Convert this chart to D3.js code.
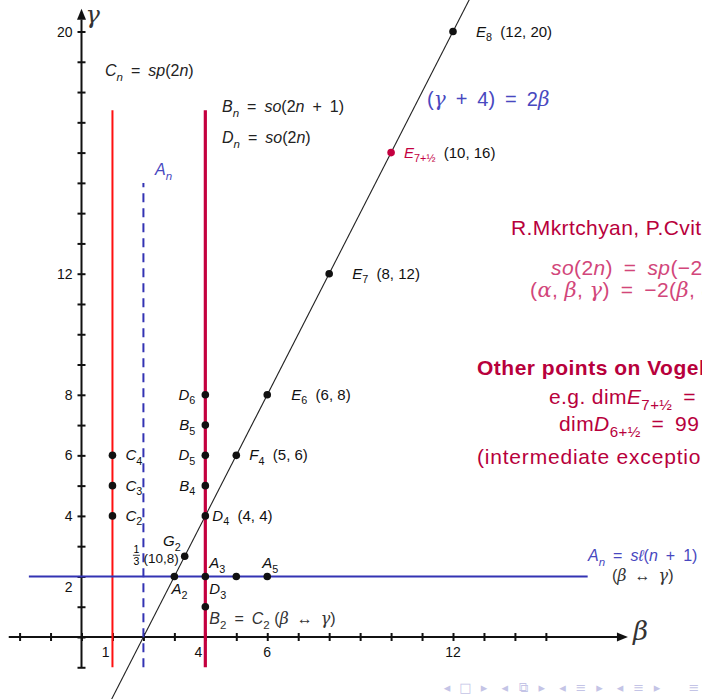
<!DOCTYPE html>
<html>
<head>
<meta charset="utf-8">
<script src="https://cdn.jsdelivr.net/npm/d3@7"></script>
<style>
body{margin:0;background:#fff}
svg{display:block;font-family:"Liberation Sans",sans-serif}
text{white-space:pre}
</style>
</head>
<body>
<script>
// ---- data ----
var betaTicks = d3.range(-2, 16)
var gammaTicks = d3.range(-1, 21)
var betaLabels = [1, 4, 6, 12]
var gammaLabels = [2, 4, 6, 8, 12, 20]

// lines, as [beta, gamma] end points
var cLine = [[1, -1], [1, 17.4]]
var bdLine = [[4, -1], [4, 17.4]]
var aLine = [[2, -1], [2, 15]]
var aRow = [[-1.7, 2], [16.35, 2]]
var vogelLine = [[0.95, -2.1], [12.55, 21.1]]

// points on the vogel line
var lineNames = ['*E*_{8}', '*E*_{7+½}', '*E*_{7}', '*E*_{6}', '*F*_{4}', '*D*_{4}']
var lineBeta = [12, 10, 8, 6, 5, 4]
var lineGamma = [20, 16, 12, 8, 6, 4]
var lineCoords = ['(12, 20)', '(10, 16)', '(8, 12)', '(6, 8)', '(5, 6)', '(4, 4)']
var intermediate = ['*E*_{7+½}']

// points on the B/D line (beta = 4)
var bdNames = ['*D*_{6}', '*B*_{5}', '*D*_{5}', '*B*_{4}']
var bdGamma = [8, 7, 6, 5]

// points on the C line (beta = 1)
var cNames = ['*C*_{4}', '*C*_{3}', '*C*_{2}']
var cGamma = [6, 5, 4]

// points on the A row (gamma = 2)
var aNames = ['*A*_{2}', '*A*_{3}', '', '*A*_{5}']
var aBeta = [3, 4, 5, 6]

var g2 = {name: '*G*_{2}', beta: 10 / 3, gamma: 8 / 3, coords: '(10,8)', num: '1', den: '3'}
var b2 = {name: '*B*_{2} = *C*_{2} (~β~ ↔ ~γ~)', beta: 4, gamma: 1}
var d3Label = {name: '*D*_{3}', beta: 4, gamma: 2}

var navGlyphs = ['◂', '□', '▸', '◂', '⧉', '▸', '◂', '≡', '▸', '◂', '≡', '▸', '≡']

// ---- drawing ----
var W = 702, H = 699
var ink = '#111', red = '#ff1010', crimson = '#c4003f', blue = '#3333b3', lblue = '#4848c0'

var x = d3.scaleLinear().domain([0, 12]).range([81.5, 453])
var y = d3.scaleLinear().domain([0, 20]).range([637, 31.5])

var svg = d3.select('body').append('svg').attr('width', W).attr('height', H)

// writes a tiny tex-like string: *italic*, ~greek~, _{sub}
function tex(sel, str, size) {
  var toks = str.match(/\*[^*]+\*|~[^~]+~|_\{[^}]+\}|[^*~_]+/g) || []
  var shift = 0
  toks.forEach(function (t) {
    var ts = sel.append('tspan'), dy = 0
    if (t[0] == '_') {
      var inner = t.slice(2, -1)
      ts.text(inner).attr('font-size', size * 0.72)
      if (/^[a-z]+$/.test(inner)) ts.attr('font-style', 'italic')
      dy = size * 0.3
    } else if (t[0] == '*') {
      ts.text(t.slice(1, -1)).attr('font-style', 'italic')
    } else if (t[0] == '~') {
      ts.text(t.slice(1, -1)).attr('font-style', 'italic').attr('font-family', 'DejaVu Serif')
    } else ts.text(t.replace(/ ([=+↔]) /g, '\u2002$1\u2002'))
    if (dy - shift) ts.attr('dy', dy - shift)
    shift = dy
  })
  return sel
}

function label(str, bx, gy, dx, dy, opts) {
  opts = opts || {}
  var size = opts.size || 15
  var t = svg.append('text')
    .attr('x', x(bx) + dx).attr('y', y(gy) + dy)
    .attr('font-size', size)
    .attr('fill', opts.color || ink)
    .attr('text-anchor', opts.anchor || 'start')
  return tex(t, str, size)
}

var line = d3.line().x(function (d) { return x(d[0]) }).y(function (d) { return y(d[1]) })

// axes
var xAxis = d3.axisBottom(x).tickValues(betaTicks).tickSize(8).tickSizeOuter(0).tickFormat('')
var gx = svg.append('g').attr('transform', 'translate(0,' + y(0) + ')').call(xAxis)
gx.select('.domain').remove()
gx.selectAll('.tick line').attr('y1', -4).attr('y2', 4).attr('stroke', ink).attr('stroke-width', 2)

var yAxis = d3.axisLeft(y).tickValues(gammaTicks).tickSize(8).tickSizeOuter(0).tickFormat('')
var gy = svg.append('g').attr('transform', 'translate(' + x(0) + ',0)').call(yAxis)
gy.select('.domain').remove()
gy.selectAll('.tick line').attr('x1', 4).attr('x2', -4).attr('stroke', ink).attr('stroke-width', 2)

svg.append('path').attr('d', line([[-2.35, 0], [17.4, 0]])).attr('stroke', ink).attr('stroke-width', 2)
svg.append('path').attr('d', line([[0, -1], [0, 20.4]])).attr('stroke', ink).attr('stroke-width', 2)
// arrow heads
var xt = x(17.65), yt = y(0)
svg.append('path').attr('d', 'M' + xt + ',' + yt + 'l-11,-4.5l0,9z').attr('fill', ink)
var gxp = x(0), gyp = y(20.75)
svg.append('path').attr('d', 'M' + gxp + ',' + gyp + 'l-4.5,11l9,0z').attr('fill', ink)

svg.append('text').attr('x', xt + 5).attr('y', yt + 3).attr('font-size', 26)
  .attr('font-family', 'DejaVu Serif').attr('font-style', 'italic').attr('fill', '#333').text('β')
svg.append('text').attr('x', gxp + 4).attr('y', gyp + 14).attr('font-size', 24)
  .attr('font-family', 'DejaVu Serif').attr('font-style', 'italic').attr('fill', '#333').text('γ')

// tick labels
svg.selectAll('.bl').data(betaLabels).enter().append('text')
  .attr('x', function (d) { return (d == 1 || d == 4) ? x(d) - 3 : x(d) })
  .attr('y', y(0) + 20)
  .attr('text-anchor', function (d) { return (d == 1 || d == 4) ? 'end' : 'middle' })
  .attr('font-size', 14).attr('fill', ink)
  .text(function (d) { return d })
svg.selectAll('.gl').data(gammaLabels).enter().append('text')
  .attr('x', x(0) - 9)
  .attr('y', function (d) { return y(d) + (d == aRow[0][1] ? 16 : 5) })
  .attr('text-anchor', 'end').attr('font-size', 14).attr('fill', ink)
  .text(function (d) { return d })

// family lines
svg.append('path').attr('d', line(vogelLine)).attr('stroke', '#222').attr('stroke-width', 1.1).attr('fill', 'none')
svg.append('path').attr('d', line(cLine)).attr('stroke', red).attr('stroke-width', 2)
svg.append('path').attr('d', line(bdLine)).attr('stroke', crimson).attr('stroke-width', 3.2)
svg.append('path').attr('d', line(aLine)).attr('stroke', blue).attr('stroke-width', 2).attr('stroke-dasharray', '9,6')
svg.append('path').attr('d', line(aRow)).attr('stroke', blue).attr('stroke-width', 2)

// points
function dot(b, g, c) {
  svg.append('circle').attr('cx', x(b)).attr('cy', y(g)).attr('r', 3.8).attr('fill', c || ink)
}

var lineDx = [23, 13, 23, 24, 13, 7]
lineNames.forEach(function (n, i) {
  var c = intermediate.indexOf(n) >= 0 ? crimson : ink
  dot(lineBeta[i], lineGamma[i], c)
  var t = label(n, lineBeta[i], lineGamma[i], lineDx[i], 5, {color: c})
  t.append('tspan').attr('fill', ink).attr('dy', -4.5).text('  ' + lineCoords[i])
})
bdNames.forEach(function (n, i) {
  dot(4, bdGamma[i])
  label(n, 4, bdGamma[i], -10, 5, {anchor: 'end'})
})
cNames.forEach(function (n, i) {
  dot(1, cGamma[i])
  label(n, 1, cGamma[i], 13, 5)
})
var aPlace = [[-3, 18], [4, -8], [0, 0], [-5, -8]]
aNames.forEach(function (n, i) {
  dot(aBeta[i], 2)
  if (n) label(n, aBeta[i], 2, aPlace[i][0], aPlace[i][1])
})
label(d3Label.name, d3Label.beta, d3Label.gamma, 4, 18)
dot(b2.beta, b2.gamma)
label(b2.name, b2.beta, b2.gamma, 4, 17, {size: 16, color: '#333'})

dot(g2.beta, g2.gamma)
label(g2.name, g2.beta, g2.gamma, -4, -10, {anchor: 'end'})
var gc = svg.append('text').attr('x', x(g2.beta) - 6).attr('y', y(g2.gamma) + 7)
  .attr('text-anchor', 'end').attr('font-size', 13.5).attr('fill', ink).text(g2.coords)
var fx = x(g2.beta) - 6 - gc.node().getComputedTextLength() - 7
var fy = y(g2.gamma) - 1
svg.append('text').attr('x', fx).attr('y', fy - 2.5).attr('text-anchor', 'middle').attr('font-size', 10.5).text(g2.num)
svg.append('line').attr('x1', fx - 3.5).attr('x2', fx + 3.5).attr('y1', fy).attr('y2', fy).attr('stroke', ink).attr('stroke-width', 0.8)
svg.append('text').attr('x', fx).attr('y', fy + 9.5).attr('text-anchor', 'middle').attr('font-size', 10.5).text(g2.den)

// family names
function note(str, px, py, opts) {
  opts = opts || {}
  var size = opts.size || 16
  var t = svg.append('text').attr('x', px).attr('y', py).attr('font-size', size)
    .attr('fill', opts.color || '#222').attr('font-weight', opts.bold ? 'bold' : null)
    .attr('letter-spacing', opts.spacing || null)
  return tex(t, str, size)
}
note('*C*_{n} = *sp*(2*n*)', 105, 76)
note('*B*_{n} = *so*(2*n* + 1)', 222, 112)
note('*D*_{n} = *so*(2*n*)', 222, 143)
note('*A*_{n}', 155, 175, {color: lblue})
note('(~γ~ + 4) = 2~β~', 427, 106, {size: 20, color: lblue})
note('*A*_{n} = *sℓ*(*n* + 1)', 588, 561, {color: lblue})
note('(~β~ ↔ ~γ~)', 612, 581, {color: '#333'})

// right hand notes (run off the slide)
var rn = {color: '#b8003c', size: 21, spacing: 0.4}
var rm = {color: '#d2467a', size: 21, spacing: 0.4}
note('R.Mkrtchyan, P.Cvitanović', 511, 235, rn)
note('*so*(2*n*) = *sp*(−2*n*)', 551, 275, rm)
note('(~α~, ~β~, ~γ~) = −2(~β~, ~α~, ~γ~)', 530, 297, rm)
note('Other points on Vogel\u2019s plane', 477, 375, {color: '#b8003c', size: 21, bold: true, spacing: 0.5})
note('e.g. dim*E*_{7+½} = 190', 549, 404, rn)
note('dim*D*_{6+½} = 99', 559, 431, rn)
note('(intermediate exceptional series)', 477, 464, {color: '#b8003c', size: 21, spacing: 0.8})

// beamer navigation symbols
svg.selectAll('.nav').data(navGlyphs).enter().append('text')
  .attr('x', function (d, i) { return i == 12 ? 694 : 447 + Math.floor(i / 3) * 57.7 + (i % 3) * 18.5 })
  .attr('y', 692).attr('text-anchor', 'middle').attr('font-size', 13)
  .attr('font-family', 'DejaVu Sans').attr('fill', '#c4c4e6')
  .text(function (d) { return d })
</script>
</body>
</html>
